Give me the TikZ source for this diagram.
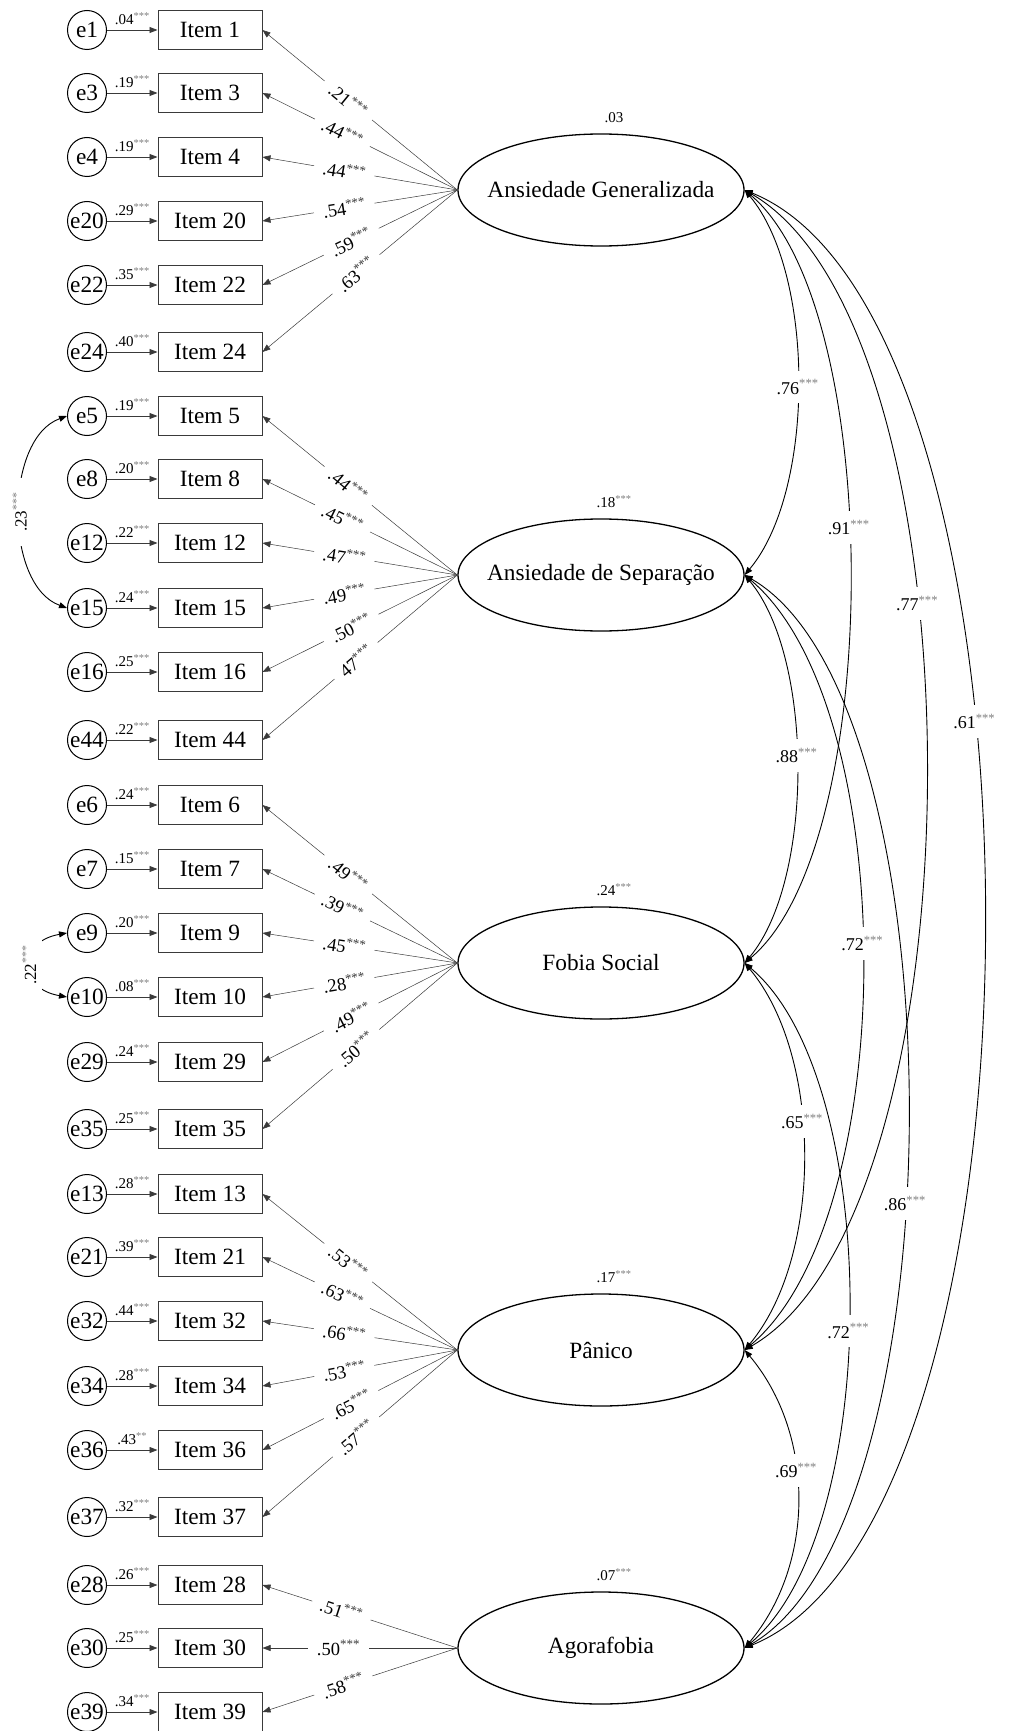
\documentclass[tikz,border=0pt]{standalone}
\usepackage{fontspec}
\setmainfont{Liberation Serif}
\usepackage{xcolor}
\usepackage{tikz}
\usetikzlibrary{positioning,arrows.meta,shapes.geometric}
\definecolor{ink}{HTML}{000000}
\definecolor{muted}{HTML}{7f7f7f}
\definecolor{edge}{HTML}{3a3a3a}
\newcommand{\sig}[1]{\textsuperscript{\color{muted}#1}}
\newcommand{\sigd}[1]{\textsuperscript{\color{edge}#1}}
\newcommand{\fs}[1]{\fontsize{#1}{#1}\selectfont}

\begin{document}
\begin{tikzpicture}[x=1pt,y=-1pt,font=\fs{23.3},
  item/.style={draw=edge,line width=1pt,minimum width=104pt,minimum height=39pt,inner sep=0pt},
  err/.style={draw=ink,circle,line width=1pt,minimum size=39pt,inner sep=0pt},
  latent/.style={draw=ink,ellipse,line width=1.3pt,minimum width=286pt,minimum height=112pt,inner xsep=-20pt,inner ysep=0pt},
  earr/.style={-{Triangle[length=8pt,width=6pt]},draw=edge,line width=0.8pt},
  load/.style={-{Triangle[length=8pt,width=6pt]},draw=edge,line width=0.5pt},
  corr/.style={{Triangle[length=8pt,width=6pt]}-{Triangle[length=8pt,width=6pt]},draw=ink,line width=0.9pt},
  evar/.style={above=5pt,inner sep=0pt,font=\fs{15}},
  llab/.style={sloped,fill=white,inner xsep=9pt,inner ysep=2pt,font=\fs{18.5}},
  clab/.style={fill=white,inner xsep=2pt,inner ysep=9pt,font=\fs{18}},
  covlab/.style={rotate=90,fill=white,inner xsep=14pt,inner ysep=6pt,font=\fs{17}},
  r2/.style={font=\fs{15},inner sep=0pt,label distance=10pt,xshift=13pt}]
  \useasboundingbox (0,0) rectangle (1011,1731);

  % observed items and their error terms
  \foreach \n/\y/\var/\stars in {1/30/.04/***,3/93/.19/***,4/157/.19/***,20/221/.29/***,22/285/.35/***,24/352/.40/***,
      5/416/.19/***,8/479/.20/***,12/543/.22/***,15/608/.24/***,16/672/.25/***,44/740/.22/***,
      6/805/.24/***,7/869/.15/***,9/933/.20/***,10/997/.08/***,29/1062/.24/***,35/1129/.25/***,
      13/1194/.28/***,21/1257/.39/***,32/1321/.44/***,34/1386/.28/***,36/1450/.43/**,37/1517/.32/***,
      28/1585/.26/***,30/1648/.25/***,39/1712/.34/***}{
    \node[item] (i\n) at (210,\y) {Item \n};
    \node[err] (e\n) at (87,\y) {e\n};
    \draw[earr] (e\n) -- node[evar] {\var\sig{\stars}} (i\n);
  }

  % factors
  \node[latent,label={[r2]above:.03}] (gen) at (601,190) {Ansiedade Generalizada};
  \node[latent,label={[r2]above:.18\sig{***}}] (sep) at (601,575) {Ansiedade de Separação};
  \node[latent,label={[r2]above:.24\sig{***}}] (soc) at (601,963) {Fobia Social};
  \node[latent,label={[r2]above:.17\sig{***}}] (pan) at (601,1350) {Pânico};
  \node[latent,label={[r2]above:.07\sig{***}}] (ago) at (601,1648) {Agorafobia};

  % loadings
  \foreach \n/\ld/\pp in {1/.21/.56,3/.44/.59,4/.44/.58,20/.54/.58,22/.59/.545,24/.63/.52}
    \draw[load] (gen.west) -- node[llab,pos=\pp] {\ld\sigd{***}} (i\n.east);
  \foreach \n/\ld/\pp in {5/.44/.56,8/.45/.59,12/.47/.58,15/.49/.58,16/.50/.545,44/47/.52}
    \draw[load] (sep.west) -- node[llab,pos=\pp] {\ld\sigd{***}} (i\n.east);
  \foreach \n/\ld/\pp in {6/.49/.56,7/.39/.59,9/.45/.58,10/.28/.58,29/.49/.545,35/.50/.52}
    \draw[load] (soc.west) -- node[llab,pos=\pp] {\ld\sigd{***}} (i\n.east);
  \foreach \n/\ld/\pp in {13/.53/.56,21/.63/.59,32/.66/.58,34/.53/.58,36/.65/.545,37/.57/.52}
    \draw[load] (pan.west) -- node[llab,pos=\pp] {\ld\sigd{***}} (i\n.east);
  \foreach \n/\ld/\pp in {28/.51/.595,30/.50/.61,39/.58/.585}
    \draw[load] (ago.west) -- node[llab,pos=\pp] {\ld\sigd{***}} (i\n.east);

  % factor correlations
  \foreach \a/\b/\ang/\d/\pp/\val in {gen/sep/50/110/.51/.76,gen/soc/40/183/.45/.91,
      gen/pan/30/279/.39/.77,gen/ago/22/344/.40/.61,sep/soc/50/108/.47/.88,
      sep/pan/40/205/.48/.72,sep/ago/30/251/.565/.86,soc/pan/50/122/.42/.65,
      soc/ago/40/181/.53/.72,pan/ago/50/110/.41/.69}
    \draw[corr] (\a.east) .. controls +(-\ang:\d pt) and +(\ang:\d pt) .. node[clab,pos=\pp] {\val\sig{***}} (\b.east);

  % correlated errors
  \draw[corr] (e5.west) .. controls +(200:67pt) and +(160:67pt) .. node[covlab] {.23\sig{***}} (e15.west);
  \draw[corr] (e9.west) .. controls +(190:51pt) and +(170:51pt) .. node[covlab] {.22\sig{***}} (e10.west);
\end{tikzpicture}
\end{document}
